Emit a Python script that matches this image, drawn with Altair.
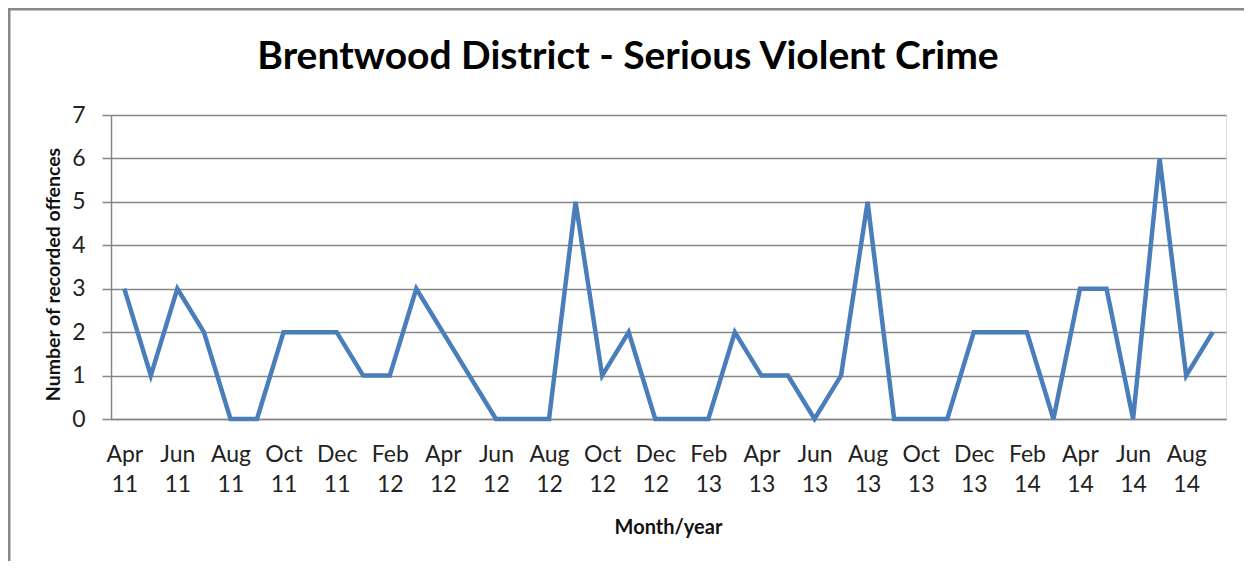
import altair as alt
import pandas as pd

months = ["Apr 11", "May 11", "Jun 11", "Jul 11", "Aug 11", "Sep 11", "Oct 11", "Nov 11", "Dec 11",
          "Jan 12", "Feb 12", "Mar 12", "Apr 12", "May 12", "Jun 12", "Jul 12", "Aug 12", "Sep 12",
          "Oct 12", "Nov 12", "Dec 12", "Jan 13", "Feb 13", "Mar 13", "Apr 13", "May 13", "Jun 13",
          "Jul 13", "Aug 13", "Sep 13", "Oct 13", "Nov 13", "Dec 13", "Jan 14", "Feb 14", "Mar 14",
          "Apr 14", "May 14", "Jun 14", "Jul 14", "Aug 14", "Sep 14"]
offences = [3, 1, 3, 2, 0, 0, 2, 2, 2,
            1, 1, 3, 2, 1, 0, 0, 0, 5,
            1, 2, 0, 0, 0, 2, 1, 1, 0,
            1, 5, 0, 0, 0, 2, 2, 2, 0,
            3, 3, 0, 6, 1, 2]
tick_labels = months[::2]
y_ticks = [0, 1, 2, 3, 4, 5, 6, 7]
title_text = "Brentwood District - Serious Violent Crime"

df = pd.DataFrame({"month": months, "offences": offences})

FONT = "Lato"
GRID = "#868686"

base = alt.Chart(df)

line = base.mark_line(color="#4a7ebb", strokeWidth=4.5, strokeJoin="miter").encode(
    x=alt.X("month:N", sort=months,
            scale=alt.Scale(type="point", padding=0.5),
            axis=alt.Axis(values=tick_labels, labelExpr="split(datum.value, ' ')",
                          labelAngle=0, ticks=False, domainColor=GRID, domainWidth=1.5,
                          labelFont=FONT, labelFontSize=23, labelColor="#222222",
                          labelLineHeight=30, labelPadding=24, labelBaseline="top",
                          title="Month/year", titleFont=FONT, titleFontSize=20,
                          titleFontWeight="bold", titleColor="#111111",
                          titleX=557, titleY=108, titleBaseline="middle", grid=False)),
    y=alt.Y("offences:Q", scale=alt.Scale(domain=[0, 7], nice=False),
            axis=alt.Axis(values=y_ticks, tickSize=9, tickColor=GRID, tickWidth=1.5,
                          domainColor=GRID, domainWidth=1.5,
                          gridColor=GRID, gridWidth=1.5, grid=True,
                          labelFont=FONT, labelFontSize=23, labelColor="#222222",
                          labelPadding=17,
                          title="Number of recorded offences", titleFont=FONT, titleFontSize=19.5,
                          titleFontWeight="bold", titleColor="#111111",
                          titleX=-58, titleY=159, titleBaseline="middle", titleAngle=-90)),
)

border = alt.Chart(pd.DataFrame({"a": [0]})).mark_rect(
    fill=None, stroke="#888888", strokeWidth=3).encode(
    x=alt.value(-102), x2=alt.value(1300), y=alt.value(-106), y2=alt.value(600))

title = alt.Chart(pd.DataFrame({"t": [title_text]})).mark_text(
    font=FONT, fontSize=39, fontWeight="bold", color="#000000",
    align="center", baseline="middle").encode(
    text="t:N", x=alt.value(517), y=alt.value(-58))

chart = alt.layer(border, line, title).properties(
    width=1115, height=304,
    autosize=alt.AutoSizeParams(type="none"),
    padding={"left": 103, "top": 107, "right": 18, "bottom": 142},
).configure_view(stroke=None).configure(background="white")

chart.save("out.html", embed_options={"renderer": "svg", "actions": False})
